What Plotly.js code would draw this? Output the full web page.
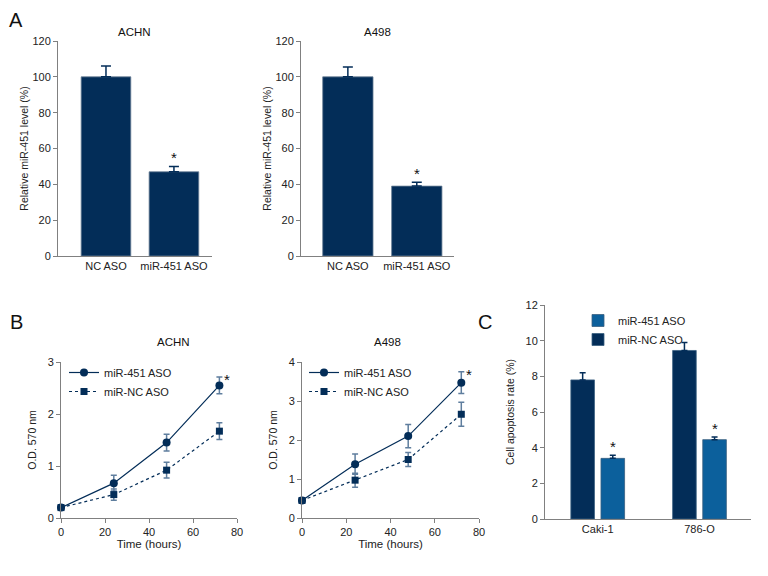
<!DOCTYPE html>
<html>
<head>
<meta charset="utf-8">
<script src="https://cdn.plot.ly/plotly-3.0.1.min.js"></script>
<style>html,body{margin:0;padding:0;background:#fff}#chart{width:768px;height:576px}</style>
</head>
<body>
<div id="chart"></div>
<script>
// ---- Data ----
const barCategoriesA = ["NC ASO", "miR-451 ASO"];
const achnLevel = [100, 47];
const achnLevelErr = [6, 3];
const a498Level = [100, 39];
const a498LevelErr = [5.5, 2.2];

const timeHours = [0, 24, 48, 72];
const achn451 = [0.2, 0.67, 1.45, 2.55];
const achn451Err = [0, 0.15, 0.16, 0.16];
const achnNC = [0.2, 0.45, 0.92, 1.67];
const achnNCErr = [0, 0.11, 0.15, 0.16];
const a498451 = [0.45, 1.38, 2.1, 3.47];
const a498451Err = [0, 0.26, 0.3, 0.28];
const a498NC = [0.45, 0.97, 1.5, 2.66];
const a498NCErr = [0, 0.18, 0.18, 0.31];

const cellLines = ["Caki-1", "786-O"];
const apoptosisNC = [7.8, 9.45];
const apoptosisNCErr = [0.4, 0.45];
const apoptosis451 = [3.4, 4.45];
const apoptosis451Err = [0.17, 0.15];

// ---- Styles ----
const FONT = "'Liberation Sans', Arial, sans-serif";
const NAVY = "#032d58";
const LIGHT = "#0c609c";
const AXC = "#808080";
const W = 768, H = 576;
const px = v => v / W;
const py = v => 1 - v / H;

const idx = a => a.map((_, i) => i);
const zeros = a => a.map(() => 0);

const traces = [];
// Panel A
[[achnLevel, achnLevelErr, "x", "y"], [a498Level, a498LevelErr, "x2", "y2"]].forEach(([v, e, xa, ya]) => {
  traces.push({
    type: "bar", x: idx(barCategoriesA), y: v, xaxis: xa, yaxis: ya, width: 0.73,
    marker: {color: NAVY, line: {color: "#6a7f95", width: 0.8}}, showlegend: false,
    error_y: {type: "data", array: e, arrayminus: zeros(e), symmetric: false, color: NAVY, thickness: 1.5, width: 5},
    hoverinfo: "y"
  });
});
// Panel B
const lineSets = [
  [achn451, achn451Err, achnNC, achnNCErr, "x3", "y3", "legend"],
  [a498451, a498451Err, a498NC, a498NCErr, "x4", "y4", "legend2"]
];
lineSets.forEach(([v1, e1, v2, e2, xa, ya, lg]) => {
  traces.push({
    type: "scatter", mode: "lines+markers", x: timeHours, y: v1, xaxis: xa, yaxis: ya, name: "miR-451 ASO", legend: lg,
    line: {color: NAVY, width: 1.2}, marker: {symbol: "circle", size: 8, color: NAVY},
    error_y: {type: "data", array: e1, color: "#5f7e9e", thickness: 1.5, width: 3}, cliponaxis: false
  });
  traces.push({
    type: "scatter", mode: "lines+markers", x: timeHours, y: v2, xaxis: xa, yaxis: ya, name: "miR-NC ASO", legend: lg,
    line: {color: NAVY, width: 1.2, dash: "dot"}, marker: {symbol: "square", size: 7, color: NAVY},
    error_y: {type: "data", array: e2, color: "#5f7e9e", thickness: 1.5, width: 3}, cliponaxis: false
  });
});
// Panel C
const cW = 0.232, cOffNC = -0.264, cOff451 = 0.032;
traces.push({
  type: "bar", x: idx(cellLines), y: apoptosis451, xaxis: "x5", yaxis: "y5", name: "miR-451 ASO", legend: "legend3",
  width: cW, offset: cOff451, marker: {color: LIGHT, line: {color: "#3a5f80", width: 0.8}}, legendrank: 1,
  error_y: {type: "data", array: apoptosis451Err, arrayminus: zeros(apoptosis451Err), symmetric: false, color: NAVY, thickness: 1.5, width: 3}
});
traces.push({
  type: "bar", x: idx(cellLines), y: apoptosisNC, xaxis: "x5", yaxis: "y5", name: "miR-NC ASO", legend: "legend3",
  width: cW, offset: cOffNC, marker: {color: NAVY, line: {color: "#3a5f80", width: 0.8}}, legendrank: 2,
  error_y: {type: "data", array: apoptosisNCErr, arrayminus: zeros(apoptosisNCErr), symmetric: false, color: NAVY, thickness: 1.5, width: 3}
});

const tickFont = {family: FONT, size: 11, color: "#222"};
const titleFont = {family: FONT, size: 10.5, color: "#222"};
function yax(dom, range, dtick, title, xa, standoff) {
  return {domain: [py(dom[1]), py(dom[0])], range: range, dtick: dtick, anchor: xa, showline: true, linecolor: AXC, linewidth: 1,
    ticks: "outside", ticklen: 4, tickcolor: AXC, showgrid: false, zeroline: false, tickfont: tickFont,
    title: {text: title, font: titleFont, standoff: standoff}, fixedrange: true};
}
function xax(dom, range, ya, opts) {
  return Object.assign({domain: [px(dom[0]), px(dom[1])], range: range, anchor: ya, showline: true, linecolor: AXC, linewidth: 1,
    showgrid: false, zeroline: false, tickfont: tickFont, fixedrange: true}, opts);
}
const catOpts = labels => ({tickmode: "array", tickvals: idx(labels), ticktext: labels, ticks: ""});
const timeOpts = {tickvals: [0, 20, 40, 60, 80], ticks: "outside", ticklen: 4, tickcolor: AXC,
  title: {text: "Time (hours)", font: {family: FONT, size: 11.5, color: "#222"}, standoff: 2}};

const ann = [];
const lab = (t, x, y, s) => ann.push({text: t, x: px(x), y: py(y), xref: "paper", yref: "paper", showarrow: false,
  font: {family: FONT, size: s, color: "#111"}, xanchor: "center", yanchor: "middle"});
lab("A", 16, 20, 20); lab("B", 16, 322, 20); lab("C", 485, 322, 20);
lab("ACHN", 134, 32, 11.5); lab("A498", 377, 32, 11.5);
lab("ACHN", 173, 342, 11.5); lab("A498", 387, 342, 11.5);
// asterisks
const star = (xa, ya, x, y, xs, ys) => ann.push({text: "*", xref: xa, yref: ya, x: x, y: y, showarrow: false,
  xshift: xs, yshift: ys, font: {family: FONT, size: 15, color: "#111"}, yanchor: "bottom"});
star("x", "y", 1, achnLevel[1] + achnLevelErr[1], 0, -2);
star("x2", "y2", 1, a498Level[1] + a498LevelErr[1], 0, -2);
star("x3", "y3", timeHours[3], achn451[3] + achn451Err[3], 8, -13);
star("x4", "y4", timeHours[3], a498451[3] + a498451Err[3], 8, -13);
cellLines.forEach((c, i) => star("x5", "y5", i + cOff451 + cW / 2, apoptosis451[i] + apoptosis451Err[i], 0, -2));

const legendBase = {font: {family: FONT, size: 11, color: "#222"}, bgcolor: "rgba(0,0,0,0)", borderwidth: 0,
  xanchor: "left", yanchor: "top", tracegroupgap: 0, itemwidth: 30};

const layout = {
  width: W, height: H, margin: {l: 0, r: 0, t: 0, b: 0}, paper_bgcolor: "#fff", plot_bgcolor: "#fff",
  barmode: "overlay", font: {family: FONT},
  xaxis: xax([58, 212], [-0.706, 1.56], "y", catOpts(barCategoriesA)),
  yaxis: yax([41, 256], [0, 120], 20, "Relative miR-451 level (%)", "x", 1),
  xaxis2: xax([301, 454], [-0.68, 1.54], "y2", catOpts(barCategoriesA)),
  yaxis2: yax([41, 256], [0, 120], 20, "Relative miR-451 level (%)", "x2", 1),
  xaxis3: xax([61, 237], [0, 80], "y3", timeOpts),
  yaxis3: yax([362, 518], [0, 3], 1, "O.D. 570 nm", "x3", 8),
  xaxis4: xax([302, 479], [0, 80], "y4", timeOpts),
  yaxis4: yax([362, 518], [0, 4], 1, "O.D. 570 nm", "x4", 8),
  xaxis5: xax([545, 751], [-0.518, 1.506], "y5", catOpts(cellLines)),
  yaxis5: yax([305, 519], [0, 12], 2, "Cell apoptosis rate (%)", "x5", 8),
  legend: Object.assign({x: px(64), y: py(358)}, legendBase),
  legend2: Object.assign({x: px(304), y: py(358)}, legendBase),
  legend3: Object.assign({x: px(578), y: py(306)}, legendBase, {traceorder: "normal"}),
  annotations: ann
};

Plotly.newPlot("chart", traces, layout, {displayModeBar: false, staticPlot: true});
</script>
</body>
</html>
